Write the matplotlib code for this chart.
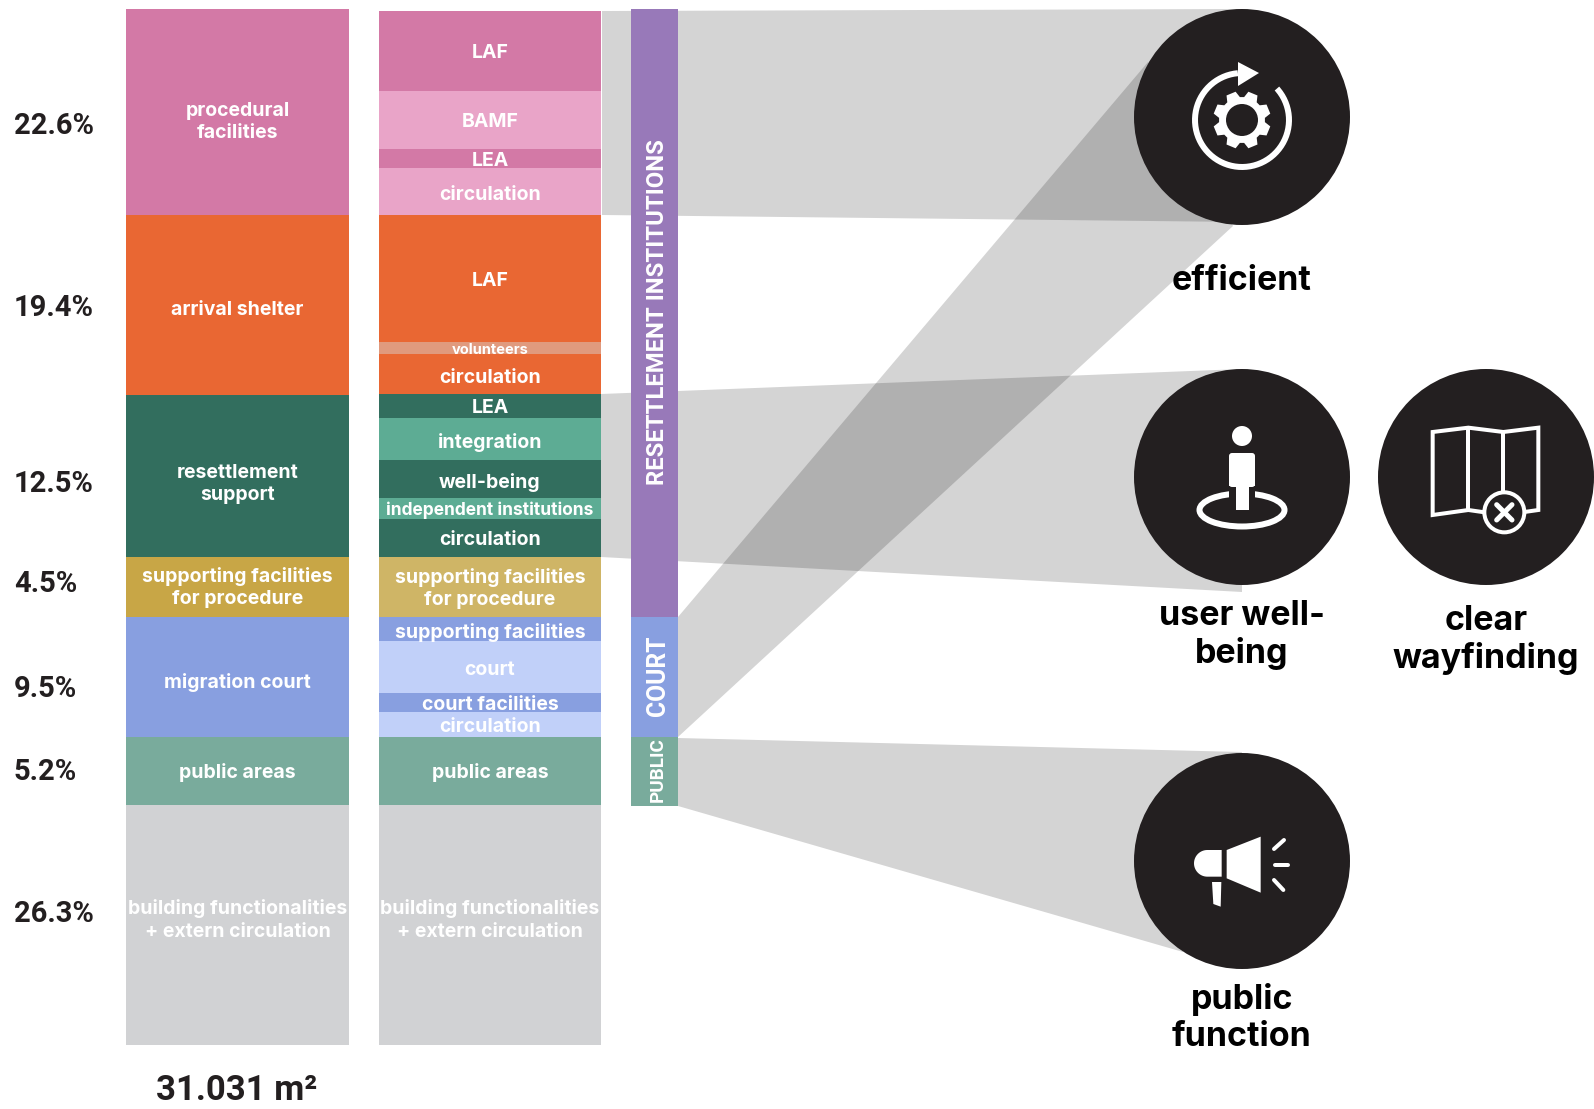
import numpy as np
import matplotlib
matplotlib.use("Agg")
import matplotlib.pyplot as plt
from matplotlib.patches import Circle, Ellipse, Polygon, Rectangle, FancyBboxPatch

# first stack: floor space per use
use_names = ["procedural\nfacilities", "arrival shelter", "resettlement\nsupport",
             "supporting facilities\nfor procedure", "migration court", "public areas",
             "building functionalities\n+ extern circulation"]
use_heights = [206, 180, 162, 60, 120, 68, 240]
use_colors = ["#D379A6", "#E96733", "#326E5E", "#C8A646", "#889FE0", "#79AB9C", "#D1D2D4"]
use_shares = ["22.6%", "19.4%", "12.5%", "4.5%", "9.5%", "5.2%", "26.3%"]
total_area = "31.031 m²"

# second stack: the same uses split up by actor
part_names = ["LAF", "BAMF", "LEA", "circulation", "LAF", "volunteers", "circulation", "LEA",
              "integration", "well-being", "independent institutions", "circulation",
              "supporting facilities\nfor procedure", "supporting facilities", "court",
              "court facilities", "circulation", "public areas",
              "building functionalities\n+ extern circulation"]
part_heights = [80, 58, 19, 47, 127, 12, 40, 24, 42, 38, 21, 38, 60, 24, 52, 19, 25, 68, 240]
part_colors = ["#D379A6", "#E9A4C8", "#D379A6", "#E9A4C8", "#E96733", "#E09A7E", "#E96733",
               "#326E5E", "#5DAC94", "#326E5E", "#5DAC94", "#326E5E", "#CFB566", "#889FE0",
               "#C1D0F9", "#889FE0", "#C1D0F9", "#79AB9C", "#D1D2D4"]
part_sizes = [14, 14, 14, 14, 14, 10.5, 14, 14, 14, 14, 12.5, 14, 14, 14, 14, 14, 14, 14, 14]

# third column: groups
group_names = ["RESETTLEMENT INSTITUTIONS", "COURT", "PUBLIC"]
group_heights = [608, 120, 69]
group_colors = ["#9879B9", "#889FE0", "#79AB9C"]
group_sizes = [17.2, 17.8, 13.6]

qualities = ["efficient", "user well-\nbeing", "clear\nwayfinding", "public\nfunction"]

INK = "#231F20"
SANS = "Inter"

fig = plt.figure(figsize=(15.94, 11.09), dpi=100)
ax = fig.add_axes([0, 0, 1, 1])
ax.set_xlim(0, 1594)
ax.set_ylim(1109, 0)
ax.axis("off")


def stack(x0, x1, top, heights, colors):
    bottoms = top + np.concatenate([[0], np.cumsum(heights)[:-1]])
    ax.bar((x0 + x1) / 2, heights, width=x1 - x0, bottom=bottoms, color=colors, linewidth=0, zorder=2)
    return bottoms


use_y = stack(126, 349, 9, use_heights, use_colors)
part_y = stack(379, 601, 11, part_heights, part_colors)
group_y = stack(631, 678, 9, group_heights, group_colors)

# ribbons, multiply-like overlap comes from the black alpha
ribbons = [[(602, 11), (1242, 9), (1242, 222), (602, 215)],
           [(678, 617), (1148, 62), (1233, 226), (678, 737)],
           [(601, 394), (1242, 369), (1242, 592), (601, 557)],
           [(678, 738), (1242, 752), (1183, 952), (678, 806)]]
for r in ribbons:
    ax.add_patch(Polygon(r, closed=True, facecolor="black", alpha=0.17, linewidth=0, zorder=1))

# stack labels
use_shift = [10, 5, 8, 0.5, 6, 1, -5]
for name, y, h, s in zip(use_names, use_y, use_heights, use_shift):
    ax.text(237.5, y + h / 2 + s, name, color="white", fontsize=14, fontweight="bold", family=SANS,
            ha="center", va="center", linespacing=1.3, zorder=5)
part_shift = [2, 2, 2, 3, 2, 2, 4, 2, 3, 3, 2, 2, 1.5, 4, 3, 2, 2, 2, -5]
for name, y, h, s, fs in zip(part_names, part_y, part_heights, part_shift, part_sizes):
    ax.text(490, y + h / 2 + s, name, color="white", fontsize=fs, fontweight="bold", family=SANS,
            ha="center", va="center", linespacing=1.3, zorder=5)

share_y = [126.5, 307.5, 484.5, 584.5, 689, 772.5, 914.5]
for t, y in zip(use_shares, share_y):
    ax.text(14, y, t, color=INK, fontsize=21, fontweight="bold", family="Roboto", ha="left", va="center")
ax.text(237, 1091, total_area, color=INK, fontsize=25, fontweight="bold", family="Roboto",
        ha="center", va="center")

group_text_y = [312, 676, 770]
for name, y, fs in zip(group_names, group_text_y, group_sizes):
    ax.text(658, y, name, color="white", fontsize=fs, fontweight="bold", family="Roboto", rotation=90,
            ha="center", va="center", zorder=5)

# circles
circles = [(1242, 117), (1242, 477), (1486, 477), (1242, 861)]
for c in circles:
    ax.add_patch(Circle(c, 108, facecolor=INK, linewidth=0, zorder=3))

quality_y = [281, 635, 640, 1018]
quality_x = [1242, 1242, 1486, 1242]
for q, x, y in zip(qualities, quality_x, quality_y):
    ax.text(x, y, q, color="black", fontsize=24.5, fontweight="bold", family=SANS, ha="center", va="center",
            linespacing=1.19, zorder=5)


def line(xs, ys, lw=4, color="white", z=4, cap="round"):
    ax.plot(xs, ys, color=color, lw=lw * 0.72, solid_capstyle=cap, solid_joinstyle="miter", zorder=z)


def shape(pts, color="white", z=4):
    ax.add_patch(Polygon(pts, closed=True, facecolor=color, linewidth=0, zorder=z))


# icon: gear with arrow
cx, cy = 1242, 120
t = np.radians(np.linspace(-95, -402, 200))
line(cx + 47 * np.cos(t), cy + 47 * np.sin(t), lw=6, cap="butt")
shape([(1238, 62), (1259, 73), (1238, 86)])
gear = []
for k in range(8):
    a = k * np.pi / 4 + np.pi / 8
    for da, rad in [(-0.30, 23), (-0.17, 29), (0.17, 29), (0.30, 23)]:
        gear.append((cx + rad * np.cos(a + da), cy + rad * np.sin(a + da)))
shape(gear)
ax.add_patch(Circle((cx, cy), 16, facecolor=INK, linewidth=0, zorder=5))

# icon: person on spot
ax.add_patch(Ellipse((1242, 510), 85, 33, facecolor="none", edgecolor="white", linewidth=6 * 0.72, zorder=4))
ax.add_patch(Rectangle((1229, 484), 26, 18, facecolor=INK, linewidth=0, zorder=4.2))
ax.add_patch(Circle((1242, 436), 10, facecolor="white", linewidth=0, zorder=4.5))
ax.add_patch(FancyBboxPatch((1232, 456), 20, 28, boxstyle="round,pad=3", facecolor="white", linewidth=0, zorder=4.5))
ax.add_patch(Rectangle((1229, 474), 26, 12, facecolor="white", linewidth=0, zorder=4.5))
ax.add_patch(Rectangle((1236, 484), 13, 26, facecolor="white", linewidth=0, zorder=4.5))

# icon: map with cross
mx = lambda v: 1120 + np.array(v) / 3
my = lambda v: 360 + np.array(v) / 3
ax.add_patch(Polygon(list(zip(mx([938, 1045, 1150, 1255, 1255, 1150, 1045, 938]),
                              my([216, 203, 216, 203, 450, 465, 450, 465]))),
                     closed=True, facecolor="none", edgecolor="white", linewidth=4 * 0.72, zorder=4))
line(mx([1045, 1045]), my([203, 450]), cap="butt")
line(mx([1150, 1150]), my([216, 400]), cap="butt")
ax.add_patch(Circle((mx(1153), my(457)), 20, facecolor=INK, edgecolor="white", linewidth=4 * 0.72, zorder=4.5))
line(mx([1130, 1176]), my([434, 480]), lw=5, z=5)
line(mx([1130, 1176]), my([480, 434]), lw=5, z=5)

# icon: megaphone
px = lambda v: 1120 + np.array(v) / 3
py = lambda v: 740 + np.array(v) / 3
t = np.radians(np.linspace(90, 270, 40))
horn_x = list(px([305])) + list(px(262 + 40 * np.cos(t))) + list(px([305]))
horn_y = list(py([410])) + list(py(370 + 40 * np.sin(t))) + list(py([330]))
shape(list(zip(horn_x, horn_y)))
shape(list(zip(px([320, 422, 422, 320]), py([330, 290, 458, 415]))))
shape(list(zip(px([276, 304, 302, 280]), py([426, 426, 500, 492]))))
line(px([462, 492]), py([327, 300]))
line(px([465, 505]), py([374, 374]))
line(px([462, 490]), py([420, 450]))

fig.savefig("out.png", dpi=100)
